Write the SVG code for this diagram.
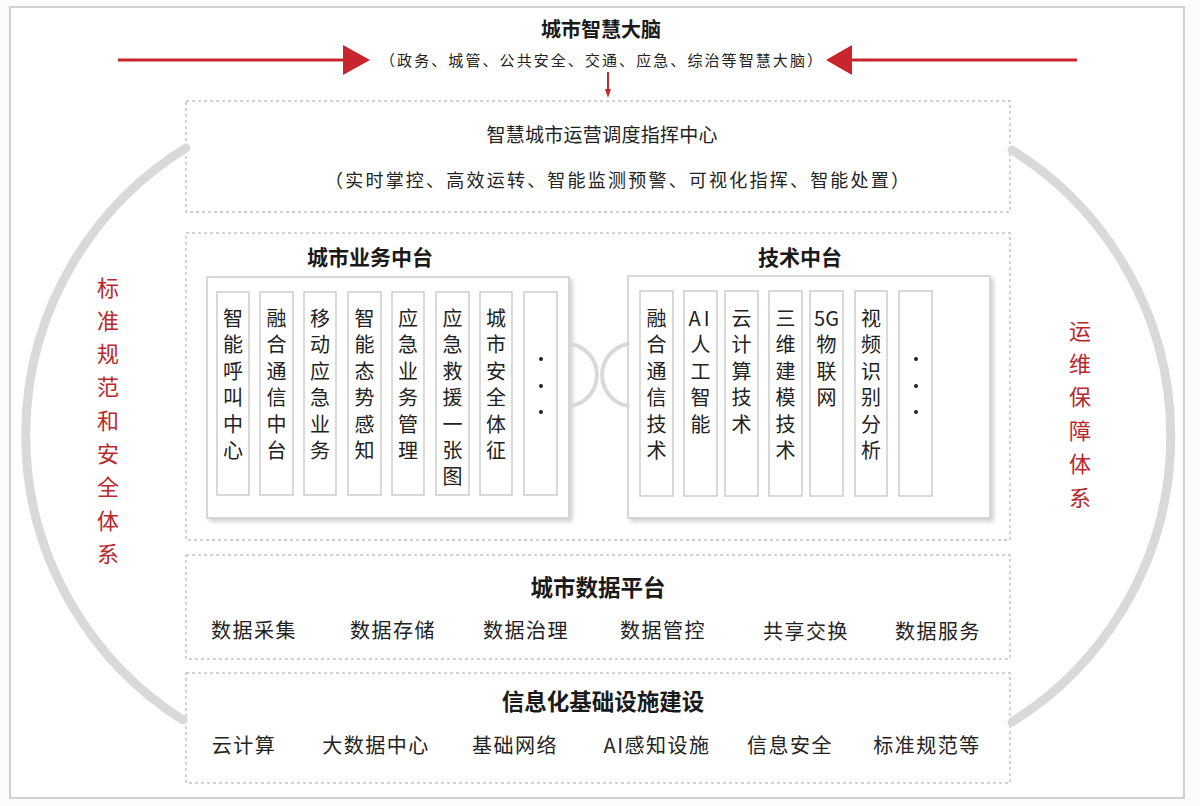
<svg xmlns="http://www.w3.org/2000/svg" width="1200" height="806" viewBox="0 0 1200 806">
<style>
text{font-family:"Noto Sans CJK SC","Noto Sans",sans-serif;fill:#222;}
.h{font-weight:bold;font-size:20px;text-anchor:middle;fill:#1a1a1a;}
.hb{font-weight:bold;font-size:22.5px;text-anchor:middle;fill:#1a1a1a;}
.m{font-size:20px;text-anchor:middle;}
.c{font-size:20px;text-anchor:middle;}
.r{font-size:22px;text-anchor:middle;fill:#b8282e;}
.dash{fill:#fff;stroke:#c4c4c4;stroke-width:1.5;stroke-dasharray:3 3;}
.col{fill:#fff;stroke:#cdcdcd;stroke-width:1.5;}
.inner{fill:#fff;stroke:#cbcbcb;stroke-width:1.5;}
.arc{fill:none;stroke:#d9d9d9;stroke-linecap:round;}
.red{fill:#c8262c;}
.redl{stroke:#c8262c;fill:none;}
</style>
<defs>
<filter id="sh" x="-5%" y="-5%" width="115%" height="115%">
<feDropShadow dx="3" dy="3" stdDeviation="2" flood-color="#000" flood-opacity="0.18"/>
</filter>
</defs>
<rect width="1200" height="806" fill="#fdfcfd"/>
<rect x="10" y="7" width="1174" height="791" fill="#fff" stroke="#d0d0d0" stroke-width="2"/>

<g id="brain">
<text class="h" x="601" y="37">城市智慧大脑</text>
<text x="601" y="65.5" style="font-size:15px;text-anchor:middle" textLength="442">（政务、城管、公共安全、交通、应急、综治等智慧大脑）</text>
</g>

<g id="ops-center">
<rect class="dash" x="186" y="101" width="824" height="111"/>
<text x="602" y="142" style="font-size:19px;text-anchor:middle" textLength="231">智慧城市运营调度指挥中心</text>
<text x="617" y="187" style="font-size:18px;text-anchor:middle" textLength="584">（实时掌控、高效运转、智能监测预警、可视化指挥、智能处置）</text>
</g>

<g id="middle">
<rect class="dash" x="186" y="233" width="824" height="307"/>
</g>

<g id="biz-platform">
<text class="h" x="370" y="264.5" style="font-size:21px">城市业务中台</text>
<rect class="inner" filter="url(#sh)" x="207" y="277" width="362" height="241"/>
<rect class="col" x="217" y="292" width="32" height="203"/>
<rect class="col" x="260" y="292" width="33" height="203"/>
<rect class="col" x="304" y="292" width="32" height="203"/>
<rect class="col" x="348" y="292" width="33" height="203"/>
<rect class="col" x="392" y="292" width="32" height="203"/>
<rect class="col" x="436" y="292" width="33" height="203"/>
<rect class="col" x="480" y="292" width="32" height="203"/>
<rect class="col" x="524" y="292" width="33" height="203"/>
<text class="c"><tspan x="233" y="326">智</tspan><tspan x="233" dy="26.4">能</tspan><tspan x="233" dy="26.4">呼</tspan><tspan x="233" dy="26.4">叫</tspan><tspan x="233" dy="26.4">中</tspan><tspan x="233" dy="26.4">心</tspan></text>
<text class="c"><tspan x="276.5" y="326">融</tspan><tspan x="276.5" dy="26.4">合</tspan><tspan x="276.5" dy="26.4">通</tspan><tspan x="276.5" dy="26.4">信</tspan><tspan x="276.5" dy="26.4">中</tspan><tspan x="276.5" dy="26.4">台</tspan></text>
<text class="c"><tspan x="320" y="326">移</tspan><tspan x="320" dy="26.4">动</tspan><tspan x="320" dy="26.4">应</tspan><tspan x="320" dy="26.4">急</tspan><tspan x="320" dy="26.4">业</tspan><tspan x="320" dy="26.4">务</tspan></text>
<text class="c"><tspan x="364.5" y="326">智</tspan><tspan x="364.5" dy="26.4">能</tspan><tspan x="364.5" dy="26.4">态</tspan><tspan x="364.5" dy="26.4">势</tspan><tspan x="364.5" dy="26.4">感</tspan><tspan x="364.5" dy="26.4">知</tspan></text>
<text class="c"><tspan x="408" y="326">应</tspan><tspan x="408" dy="26.4">急</tspan><tspan x="408" dy="26.4">业</tspan><tspan x="408" dy="26.4">务</tspan><tspan x="408" dy="26.4">管</tspan><tspan x="408" dy="26.4">理</tspan></text>
<text class="c"><tspan x="452.5" y="326">应</tspan><tspan x="452.5" dy="26.4">急</tspan><tspan x="452.5" dy="26.4">救</tspan><tspan x="452.5" dy="26.4">援</tspan><tspan x="452.5" dy="26.4">一</tspan><tspan x="452.5" dy="26.4">张</tspan><tspan x="452.5" dy="26.4">图</tspan></text>
<text class="c"><tspan x="496" y="326">城</tspan><tspan x="496" dy="26.4">市</tspan><tspan x="496" dy="26.4">安</tspan><tspan x="496" dy="26.4">全</tspan><tspan x="496" dy="26.4">体</tspan><tspan x="496" dy="26.4">征</tspan></text>
<g fill="#222"><circle cx="541" cy="359" r="2"/><circle cx="541" cy="386" r="2"/><circle cx="541" cy="412" r="2"/></g>
</g>

<g id="tech-platform">
<text class="h" x="800" y="264.5" style="font-size:21px">技术中台</text>
<rect class="inner" filter="url(#sh)" x="628" y="276" width="362" height="242"/>
<rect class="col" x="640" y="291" width="33" height="205"/>
<rect class="col" x="684" y="291" width="33" height="205"/>
<rect class="col" x="725" y="291" width="33" height="205"/>
<rect class="col" x="769" y="291" width="33" height="205"/>
<rect class="col" x="810" y="291" width="33" height="205"/>
<rect class="col" x="855" y="291" width="32" height="205"/>
<rect class="col" x="899" y="291" width="33" height="205"/>
<text class="c"><tspan x="656.5" y="326">融</tspan><tspan x="656.5" dy="26.4">合</tspan><tspan x="656.5" dy="26.4">通</tspan><tspan x="656.5" dy="26.4">信</tspan><tspan x="656.5" dy="26.4">技</tspan><tspan x="656.5" dy="26.4">术</tspan></text>
<text class="c"><tspan x="700.5" y="326" style="letter-spacing:3px">AI</tspan><tspan x="700.5" dy="26.4">人</tspan><tspan x="700.5" dy="26.4">工</tspan><tspan x="700.5" dy="26.4">智</tspan><tspan x="700.5" dy="26.4">能</tspan></text>
<text class="c"><tspan x="741.5" y="326">云</tspan><tspan x="741.5" dy="26.4">计</tspan><tspan x="741.5" dy="26.4">算</tspan><tspan x="741.5" dy="26.4">技</tspan><tspan x="741.5" dy="26.4">术</tspan></text>
<text class="c"><tspan x="785.5" y="326">三</tspan><tspan x="785.5" dy="26.4">维</tspan><tspan x="785.5" dy="26.4">建</tspan><tspan x="785.5" dy="26.4">模</tspan><tspan x="785.5" dy="26.4">技</tspan><tspan x="785.5" dy="26.4">术</tspan></text>
<text class="c"><tspan x="826.5" y="326">5G</tspan><tspan x="826.5" dy="26.4">物</tspan><tspan x="826.5" dy="26.4">联</tspan><tspan x="826.5" dy="26.4">网</tspan></text>
<text class="c"><tspan x="871" y="326">视</tspan><tspan x="871" dy="26.4">频</tspan><tspan x="871" dy="26.4">识</tspan><tspan x="871" dy="26.4">别</tspan><tspan x="871" dy="26.4">分</tspan><tspan x="871" dy="26.4">析</tspan></text>
<g fill="#222"><circle cx="916" cy="359" r="2"/><circle cx="916" cy="386" r="2"/><circle cx="916" cy="412" r="2"/></g>
</g>

<g id="data-platform">
<rect class="dash" x="186" y="555" width="824" height="104"/>
<text class="hb" x="598" y="596">城市数据平台</text>
<g style="letter-spacing:1.5px">
<text class="m" x="254" y="637.5">数据采集</text>
<text class="m" x="393" y="637.5">数据存储</text>
<text class="m" x="526" y="637.5">数据治理</text>
<text class="m" x="663" y="637.5">数据管控</text>
<text class="m" x="806" y="639">共享交换</text>
<text class="m" x="938" y="639">数据服务</text>
</g>
</g>

<g id="infrastructure">
<rect class="dash" x="186" y="673" width="824" height="110"/>
<text class="hb" x="603" y="710">信息化基础设施建设</text>
<g style="letter-spacing:1.5px">
<text class="m" x="244" y="752.5">云计算</text>
<text class="m" x="376" y="752.5">大数据中心</text>
<text class="m" x="515" y="752.5">基础网络</text>
<text class="m" x="657" y="752.5">AI感知设施</text>
<text class="m" x="790" y="752.5">信息安全</text>
<text class="m" x="927" y="752.5">标准规范等</text>
</g>
</g>

<g id="standards">
<text class="r"><tspan x="108" y="295.5">标</tspan><tspan x="108" dy="33.3">准</tspan><tspan x="108" dy="33.3">规</tspan><tspan x="108" dy="33.3">范</tspan><tspan x="108" dy="33.3">和</tspan><tspan x="108" dy="33.3">安</tspan><tspan x="108" dy="33.3">全</tspan><tspan x="108" dy="33.3">体</tspan><tspan x="108" dy="33.3">系</tspan></text>
</g>

<g id="ops-maintenance">
<text class="r"><tspan x="1080" y="338.5">运</tspan><tspan x="1080" dy="33.4">维</tspan><tspan x="1080" dy="33.4">保</tspan><tspan x="1080" dy="33.4">障</tspan><tspan x="1080" dy="33.4">体</tspan><tspan x="1080" dy="33.4">系</tspan></text>
</g>

<g id="connectors">
<path class="arc" stroke-width="9" d="M186,148 A337,337 0 0 0 183,720"/>
<path class="arc" stroke-width="9" d="M1012,150 A337,337 0 0 1 1012,722"/>
<line class="redl" x1="118" y1="60" x2="345" y2="60" stroke-width="3"/>
<polygon class="red" points="343,45 370,60 343,75"/>
<line class="redl" x1="852" y1="60" x2="1077" y2="60" stroke-width="3"/>
<polygon class="red" points="852,45 826,60 852,75"/>
<line class="redl" x1="608" y1="72" x2="608" y2="90" stroke-width="2"/>
<polygon class="red" points="605,89 611,89 608,98"/>
<path class="arc" stroke-width="4" d="M571,344 A31.5,31.5 0 0 1 571,406"/>
<path class="arc" stroke-width="4" d="M628,344 A31.5,31.5 0 0 0 628,406"/>
</g>
</svg>
